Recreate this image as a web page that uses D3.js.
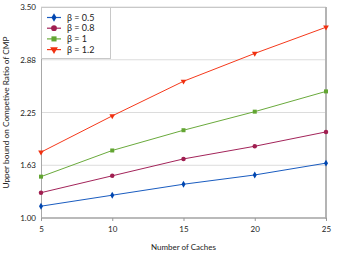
<!DOCTYPE html>
<html><head><meta charset="utf-8">
<script src="https://cdn.jsdelivr.net/npm/d3@7/dist/d3.min.js"></script>
<style>body{margin:0;background:#fff}svg{display:block}text{font-family:Lato,"Open Sans",sans-serif;fill:#222}</style>
</head><body><svg id="c" width="342" height="256"></svg>
<script>
const caches = [5, 10, 15, 20, 25];
const yTicks = [1.00, 1.625, 2.25, 2.875, 3.50];
const yTickLabels = ["1.00", "1.63", "2.25", "2.88", "3.50"];
const seriesNames = ["β = 0.5", "β = 0.8", "β = 1", "β = 1.2"];
const b05 = [1.14, 1.27, 1.40, 1.51, 1.65];
const b08 = [1.30, 1.50, 1.70, 1.85, 2.02];
const b10 = [1.49, 1.80, 2.04, 2.26, 2.50];
const b12 = [1.78, 2.21, 2.62, 2.95, 3.26];
const colors = ["#1a5cc0", "#a3245a", "#6aaa3c", "#f5391b"];
const markerColors = ["#0046b0", "#a01e50", "#62a532", "#f03010"];
const shapes = [d3.symbolDiamond, d3.symbolCircle, d3.symbolSquare, d3.symbolTriangle];
const series = [b05, b08, b10, b12];

const svg = d3.select("#c");
const m = {l: 41, r: 326, t: 7, b: 218};
const x = d3.scaleLinear().domain([5, 25]).range([m.l, m.r]);
const y = d3.scaleLinear().domain([1, 3.5]).range([m.b, m.t]);

svg.append("g").selectAll("line").data(yTicks).join("line")
  .attr("x1", m.l).attr("x2", m.r).attr("y1", d => y(d)).attr("y2", d => y(d))
  .attr("stroke", "#dcdcdc").attr("stroke-width", 1);
svg.append("line").attr("x1", m.l).attr("x2", m.r).attr("y1", m.t+0.5).attr("y2", m.t+0.5).attr("stroke", "#c8c8c8");
svg.append("line").attr("x1", m.l+0.5).attr("x2", m.l+0.5).attr("y1", m.t).attr("y2", m.b).attr("stroke", "#a8a8a8");
svg.append("line").attr("x1", m.r).attr("x2", m.r).attr("y1", m.t).attr("y2", m.b+1).attr("stroke", "#b4b4b4").attr("stroke-width", 2);
svg.append("line").attr("x1", m.l).attr("x2", m.r+1).attr("y1", m.b).attr("y2", m.b).attr("stroke", "#a8a8a8").attr("stroke-width", 1.5);

const xAxis = d3.axisBottom(x).tickValues(caches).tickSize(3).tickFormat(d3.format("d"));
const gx = svg.append("g").attr("transform", `translate(0,${m.b})`).call(xAxis);
gx.select(".domain").remove();
gx.selectAll("line").attr("stroke", "#999");
gx.selectAll("text").attr("font-size", 8).attr("dy", "1.05em").attr("fill", "#222");

const yAxis = d3.axisLeft(y).tickValues(yTicks).tickSize(0).tickFormat((d, i) => yTickLabels[i]);
const gy = svg.append("g").attr("transform", `translate(${m.l},0)`).call(yAxis);
gy.select(".domain").remove();
gy.selectAll("text").attr("font-size", 8).attr("x", -5).attr("fill", "#222");

svg.append("text").attr("x", (m.l + m.r) / 2).attr("y", 250).attr("text-anchor", "middle")
  .attr("font-size", 8).text("Number of Caches");
svg.append("text").attr("transform", `translate(9,${(m.t + m.b) / 2}) rotate(-90)`)
  .attr("text-anchor", "middle").attr("font-size", 8.3).text("Upper bound on Competive Ratio of CMP");

const line = d3.line().x((d, i) => x(caches[i])).y(d => y(d));
series.forEach((s, k) => {
  svg.append("path").datum(s).attr("d", line).attr("fill", "none")
    .attr("stroke", colors[k]).attr("stroke-width", 1);
  svg.append("g").selectAll("path").data(s).join("path")
    .attr("transform", (d, i) => `translate(${x(caches[i])},${y(d)})` + (k === 3 ? " rotate(180)" : ""))
    .attr("d", d3.symbol().type(shapes[k]).size(k === 0 ? 14 : k === 3 ? 14 : 16))
    .attr("fill", markerColors[k]);
});

const lg = svg.append("g");
lg.append("rect").attr("x", 41.5).attr("y", 7.5).attr("width", 69).attr("height", 51)
  .attr("fill", "#fff").attr("stroke", "#c8c8c8");
seriesNames.forEach((n, k) => {
  const yy = 17.5 + k * 10.7;
  lg.append("line").attr("x1", 47).attr("x2", 61).attr("y1", yy).attr("y2", yy)
    .attr("stroke", colors[k]).attr("stroke-width", 1.2);
  lg.append("path").attr("transform", `translate(54,${yy})` + (k === 3 ? " rotate(180)" : ""))
    .attr("d", d3.symbol().type(shapes[k]).size(k === 0 ? 22 : 26)).attr("fill", markerColors[k]);
  lg.append("text").attr("x", 67).attr("y", yy).attr("dy", "0.35em").attr("font-size", 9).text(n);
});
</script></body></html>
